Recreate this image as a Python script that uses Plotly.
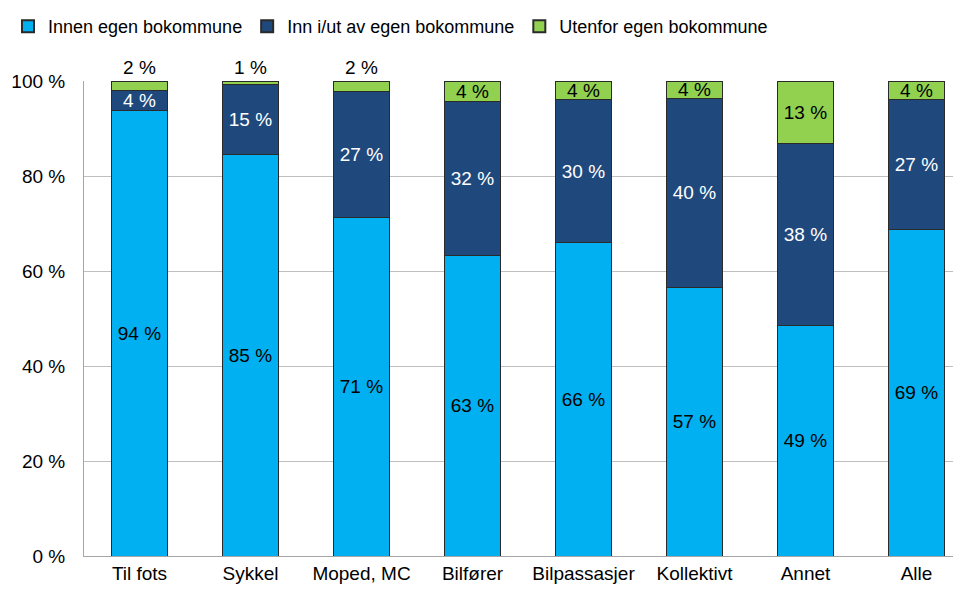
import plotly.graph_objects as go

categories = ["Til fots", "Sykkel", "Moped, MC", "Bilfører", "Bilpassasjer", "Kollektivt", "Annet", "Alle"]
innen = [93.7, 84.6, 71.2, 63.2, 65.9, 56.6, 48.6, 68.8]
inn_ut = [4.2, 14.6, 26.6, 32.4, 30.3, 39.8, 38.3, 27.4]
utenfor = [2.0, 0.7, 2.1, 4.4, 3.8, 3.6, 13.1, 3.8]
y_ticks = [0, 20, 40, 60, 80, 100]
y_tick_labels = ["0 %", "20 %", "40 %", "60 %", "80 %", "100 %"]

FONT = "Liberation Sans, Arial, sans-serif"
colors = ["#00B0F0", "#1F497D", "#92D050"]
names = ["Innen egen bokommune", "Inn i/ut av egen bokommune", "Utenfor egen bokommune"]
series = [innen, inn_ut, utenfor]
text_colors = ["#000000", "#FFFFFF", "#000000"]

fig = go.Figure()
for i, (name, vals) in enumerate(zip(names, series)):
    if i == 2:
        pos = ["outside" if v < 3 else "inside" for v in vals]
    else:
        pos = "inside"
    fig.add_trace(go.Bar(
        x=categories, y=vals, name=name,
        marker=dict(color=colors[i], line=dict(color="#2a2a2a", width=1)),
        text=[f"{round(v)} %" for v in vals],
        textposition=pos,
        insidetextanchor="middle",
        textangle=0,
        constraintext="none",
        cliponaxis=False,
        insidetextfont=dict(color=text_colors[i], size=19, family=FONT),
        outsidetextfont=dict(color="#000000", size=19, family=FONT),
        width=0.5,
        hoverinfo="skip",
    ))

fig.update_layout(
    barmode="stack",
    width=961, height=596,
    margin=dict(l=76, r=0, t=73, b=48),
    paper_bgcolor="white", plot_bgcolor="white",
    font=dict(family=FONT, size=19, color="#000000"),
    uniformtext=dict(minsize=19, mode="show"),
    legend=dict(orientation="h", xref="container", yref="container",
                x=0.0, y=1.0, xanchor="left", yanchor="top",
                font=dict(size=18, family=FONT), itemsizing="constant",
                traceorder="normal", itemwidth=30),
    xaxis=dict(range=[-0.5, 7.473], showline=True, linecolor="#a6a6a6",
               tickfont=dict(size=19, family=FONT), ticks="", showgrid=False,
               automargin=False),
    yaxis=dict(range=[0, 100], tickvals=y_ticks, ticktext=y_tick_labels,
               showgrid=True, gridcolor="#bfbfbf", gridwidth=1,
               showline=True, linecolor="#a6a6a6", zeroline=False,
               tickfont=dict(size=19, family=FONT), ticklabelstandoff=14,
               automargin=False),
)

fig.write_html("out.html")
